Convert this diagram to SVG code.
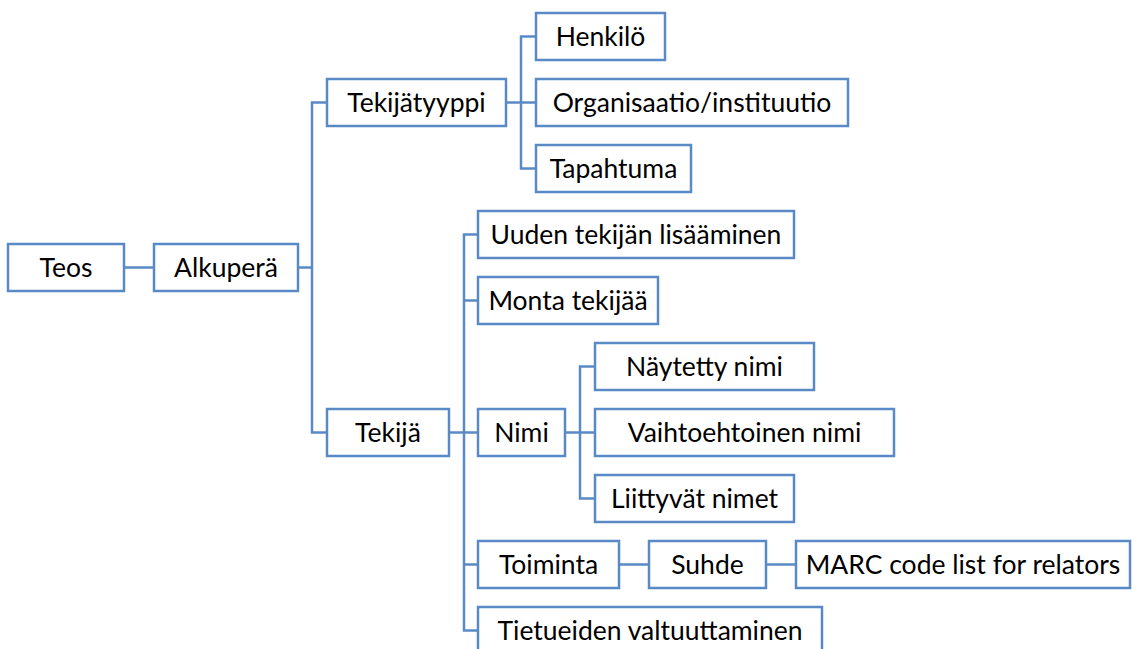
<svg xmlns="http://www.w3.org/2000/svg" width="1132" height="649" viewBox="0 0 1132 649">
<style>
.b{fill:#fff;stroke:#5A8AC6;stroke-width:2.5}
.t{font-family:Lato,"Open Sans",sans-serif;font-size:26.5px;fill:#000;text-anchor:middle}
.c{fill:none;stroke:#5A8AC6;stroke-width:2.5}
</style>
<rect width="1132" height="649" fill="#fff"/>
<g id="connectors" class="c">
<path d="M124 267.5H154"/>
<path d="M298 267.5H312M327 102.5H312V432.5H327"/>
<path d="M506 102.5H536M536 36.5H521V168.5H536"/>
<path d="M449 432.5H478M478 234.5H464V630.5H478M464 300.5H478M464 564.5H478"/>
<path d="M565 432.5H595M595 366.5H580V498.5H595"/>
<path d="M619 564.5H649M766 564.5H796"/>
</g>
<g id="teos"><rect class="b" x="8" y="244" width="116" height="47"/><text class="t" x="66" y="277">Teos</text></g>
<g id="alkupera"><rect class="b" x="154" y="244" width="144" height="47"/><text class="t" x="226" y="277">Alkuperä</text></g>
<g id="tekijatyyppi"><rect class="b" x="327" y="79" width="179" height="47"/><text class="t" x="416.5" y="112">Tekijätyyppi</text></g>
<g id="henkilo"><rect class="b" x="536" y="13" width="129" height="47"/><text class="t" x="600.5" y="46">Henkilö</text></g>
<g id="organisaatio"><rect class="b" x="536" y="79" width="312" height="47"/><text class="t" x="692" y="112">Organisaatio/instituutio</text></g>
<g id="tapahtuma"><rect class="b" x="536" y="145" width="155" height="47"/><text class="t" x="613.5" y="178">Tapahtuma</text></g>
<g id="uuden"><rect class="b" x="478" y="211" width="316" height="47"/><text class="t" x="636" y="244">Uuden tekijän lisääminen</text></g>
<g id="monta"><rect class="b" x="478" y="277" width="180" height="47"/><text class="t" x="568" y="310">Monta tekijää</text></g>
<g id="tekija"><rect class="b" x="327" y="409" width="122" height="47"/><text class="t" x="388" y="442">Tekijä</text></g>
<g id="nimi"><rect class="b" x="478" y="409" width="87" height="47"/><text class="t" x="521.5" y="442">Nimi</text></g>
<g id="naytetty"><rect class="b" x="595" y="343" width="219" height="47"/><text class="t" x="704.5" y="376">Näytetty nimi</text></g>
<g id="vaihtoehtoinen"><rect class="b" x="595" y="409" width="299" height="47"/><text class="t" x="744.5" y="442">Vaihtoehtoinen nimi</text></g>
<g id="liittyvat"><rect class="b" x="595" y="475" width="199" height="47"/><text class="t" x="694.5" y="508">Liittyvät nimet</text></g>
<g id="toiminta"><rect class="b" x="478" y="541" width="141" height="47"/><text class="t" x="548.5" y="574">Toiminta</text></g>
<g id="suhde"><rect class="b" x="649" y="541" width="117" height="47"/><text class="t" x="707.5" y="574">Suhde</text></g>
<g id="marc"><rect class="b" x="796" y="541" width="334" height="47"/><text class="t" x="963" y="574">MARC code list for relators</text></g>
<g id="tietueiden"><rect class="b" x="478" y="607" width="344" height="47"/><text class="t" x="650" y="640">Tietueiden valtuuttaminen</text></g>
</svg>
